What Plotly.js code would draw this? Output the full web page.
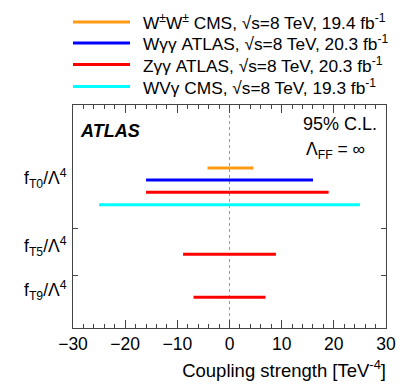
<!DOCTYPE html>
<html>
<head>
<meta charset="utf-8">
<script src="https://cdn.plot.ly/plotly-3.0.1.min.js"></script>
<style>body{margin:0;background:#fff}</style>
</head>
<body>
<div id="plot" style="width:407px;height:391px"></div>
<script>
// Measurements (legend entries)
var seriesNames = [
    "W<sup>±</sup>W<sup>±</sup> CMS, √s=8 TeV, 19.4 fb<sup>-1</sup>",
    "Wγγ ATLAS, √s=8 TeV, 20.3 fb<sup>-1</sup>",
    "Zγγ ATLAS, √s=8 TeV, 20.3 fb<sup>-1</sup>",
    "WVγ CMS, √s=8 TeV, 19.3 fb<sup>-1</sup>"
];
var seriesColors = ["#ff9a14", "#0000ff", "#ff0000", "#00ffff"];

// Couplings (y labels)
var couplingLabels = [
    "f<sub>T0</sub>/Λ<sup>4</sup>",
    "f<sub>T5</sub>/Λ<sup>4</sup>",
    "f<sub>T9</sub>/Λ<sup>4</sup>"
];

// 95% C.L. limits, one entry per drawn interval [TeV^-4]
var limitSeries   = [0, 1, 2, 3, 2, 2];
var limitCoupling = [0, 0, 0, 0, 1, 2];
var limitLow      = [-4.2, -16, -16, -25, -8.9, -6.9];
var limitHigh     = [4.6, 16, 19, 25, 8.9, 6.9];

// vertical slot of each interval inside the frame
var rowY = [3.43, 3.17, 2.91, 2.64, 1.58, 0.66];
var labelY = [3.2, 1.75, 0.8];

// plot area in pixels
var L = 73, R = 386, T = 105, B = 328;
function px(x) { return (x - L) / (R - L); }
function py(y) { return (B - y) / (B - T); }

var data = limitLow.map(function (lo, i) {
    return {
        x: [lo, limitHigh[i]],
        y: [rowY[i], rowY[i]],
        mode: "lines",
        line: {color: seriesColors[limitSeries[i]], width: 3},
        showlegend: false,
        hoverinfo: "x"
    };
});

var font = {family: "Liberation Sans, Arial, sans-serif", color: "#000"};
function f(size) { return Object.assign({size: size}, font); }
var annotations = [];
var shapes = [
    {type: "line", xref: "x", yref: "paper", x0: 0, x1: 0, y0: 0, y1: 1,
     line: {color: "#999", width: 1, dash: "dot"}, layer: "below"}
];

var legendY = [22, 43, 64.5, 86.5];
seriesNames.forEach(function (name, i) {
    shapes.push({type: "line", xref: "paper", yref: "paper",
        x0: px(73), x1: px(130), y0: py(legendY[i]), y1: py(legendY[i]),
        line: {color: seriesColors[i], width: 3}});
    annotations.push({text: name, xref: "paper", yref: "paper",
        x: px(141), y: py(legendY[i] + 0.5), xanchor: "left", yanchor: "middle",
        showarrow: false, font: f(17.3)});
});

couplingLabels.forEach(function (lab, i) {
    annotations.push({text: lab, xref: "paper", yref: "y",
        x: 0, xshift: -4, y: labelY[i], xanchor: "right", yanchor: "middle",
        showarrow: false, font: f(17.5)});
});

annotations.push({text: "<b><i>ATLAS</i></b>", xref: "paper", yref: "paper",
    x: px(78), y: py(131), xanchor: "left", yanchor: "middle",
    showarrow: false, font: f(18)});
annotations.push({text: "95% C.L.", xref: "paper", yref: "paper",
    x: px(379), y: py(124), xanchor: "right", yanchor: "middle",
    showarrow: false, font: f(18)});
annotations.push({text: "Λ<sub>FF</sub> = ∞", xref: "paper", yref: "paper",
    x: px(367), y: py(150), xanchor: "right", yanchor: "middle",
    showarrow: false, font: f(17.5)});

var layout = {
    width: 407,
    height: 391,
    margin: {l: L, r: 407 - R, t: T, b: 391 - B},
    paper_bgcolor: "#fff",
    plot_bgcolor: "#fff",
    font: font,
    showlegend: false,
    xaxis: {
        range: [-30, 30],
        tickvals: [-30, -20, -10, 0, 10, 20, 30],
        ticks: "inside",
        ticklen: 8,
        tickcolor: "#444",
        tickfont: {size: 17.5},
        minor: {dtick: 2, ticks: "inside", ticklen: 4, tickcolor: "#444"},
        showline: true,
        linecolor: "#444",
        mirror: "ticks",
        showgrid: false,
        zeroline: false,
        title: {text: "Coupling strength [TeV<sup>-4</sup>]", font: {size: 18.5}}
    },
    yaxis: {
        range: [0, 4.78],
        tickvals: [1.135, 2.135],
        showticklabels: false,
        ticks: "inside",
        ticklen: 5,
        tickcolor: "#444",
        showline: true,
        linecolor: "#444",
        mirror: "ticks",
        showgrid: false,
        zeroline: false
    },
    annotations: annotations,
    shapes: shapes
};

Plotly.newPlot("plot", data, layout, {staticPlot: true});

// right-align the axis title like the original
var title = document.querySelector(".xtitle");
if (title) {
    title.setAttribute("text-anchor", "end");
    title.setAttribute("x", R);
    title.setAttribute("y", 383);
}
</script>
</body>
</html>
